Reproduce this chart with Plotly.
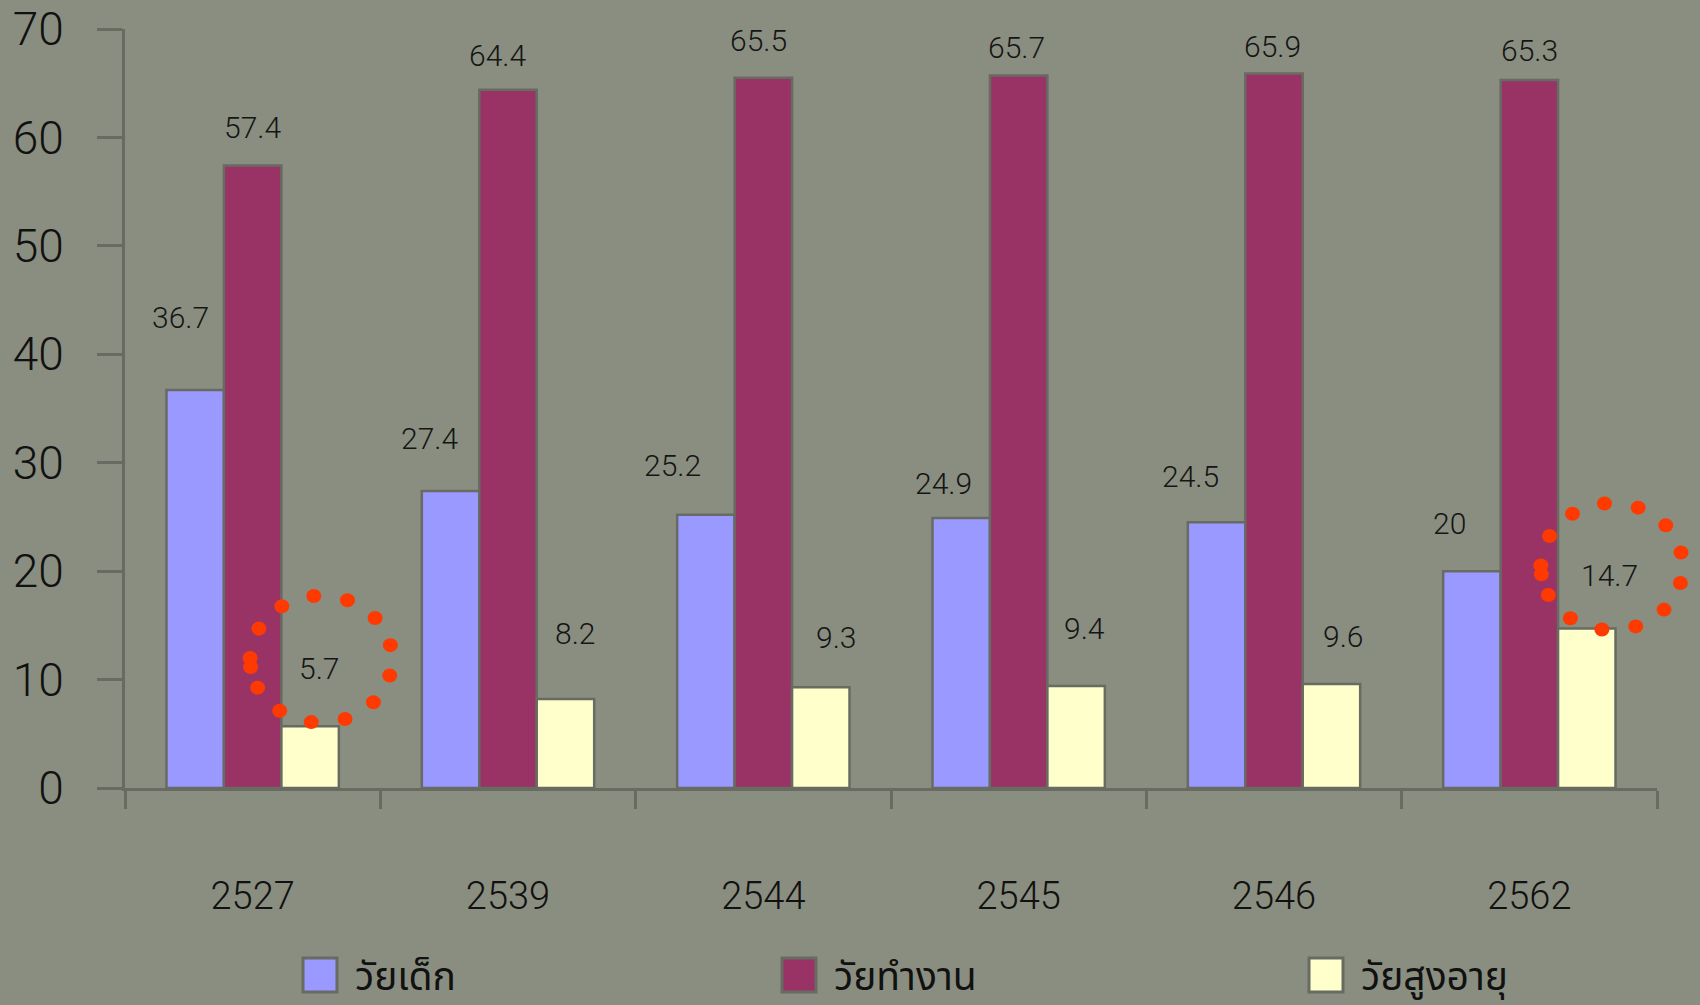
import math
import plotly.graph_objects as go

years = ["2527", "2539", "2544", "2545", "2546", "2562"]
series_names = ["วัยเด็ก", "วัยทำงาน", "วัยสูงอายุ"]
children = [36.7, 27.4, 25.2, 24.9, 24.5, 20]
working = [57.4, 64.4, 65.5, 65.7, 65.9, 65.3]
elderly = [5.7, 8.2, 9.3, 9.4, 9.6, 14.7]
y_ticks = [0, 10, 20, 30, 40, 50, 60, 70]
highlight_years = ["2527", "2562"]

colors = ["#9999FF", "#993366", "#FFFFCC"]
series = [children, working, elderly]

# label offsets (px) relative to top-centre of each bar
label_dx = [[-15, -21, -33, -18, -26, -22],
            [0, -11, -5, -2, -2, 0],
            [9, 10, 15, 8, 12, 23]]
label_dy = [[73, 52, 49, 35, 46, 48],
            [38, 34, 37, 28, 27, 29],
            [58, 66, 50, 58, 47, 53]]

W, H = 1700, 1005
ML, MR, MT, MB = 125, 43, 29, 217
BARGAP = 0.325
plot_w = W - ML - MR
plot_h = H - MT - MB
cat_w = plot_w / len(years)
bar_w = cat_w * (1 - BARGAP) / 3

BG = "#8a8e80"
AX = "#676b61"
FONT = "Roboto, 'Liberation Sans', Arial, sans-serif"
THAI_FONT = "Thonburi, Tahoma, 'Noto Sans Thai', 'Noto Sans', 'DejaVu Sans', sans-serif"

fig = go.Figure()
for name, vals, col in zip(series_names, series, colors):
    fig.add_trace(go.Bar(
        x=years, y=vals, name=name,
        marker=dict(color=col, line=dict(color="#686b62", width=2.5)),
        showlegend=False, hoverinfo="x+y+name",
    ))

annotations = []
shapes = []
for s, vals in enumerate(series):
    base_dx = (s - 1) * bar_w
    for i, v in enumerate(vals):
        annotations.append(dict(
            x=i, y=v, xref="x", yref="y", text=f"{v:g}",
            showarrow=False, xshift=base_dx + label_dx[s][i], yshift=label_dy[s][i],
            xanchor="center", yanchor="middle",
            font=dict(family=FONT, size=30, color="#151515", weight=300),
        ))

# red dotted circles around the elderly labels of highlighted years
# (x anchored on the category centre in the x-domain so the dots are not clipped)
dot_angles = [-123.6 + k * 27.7 for k in range(13)] + [173]
for yr in highlight_years:
    i = years.index(yr)
    cx = bar_w + label_dx[2][i] + 2
    cy = label_dy[2][i] + 9
    for a in dot_angles:
        r = math.radians(a)
        dx = cx + 71 * math.cos(r)
        dy = cy - 63.5 * math.sin(r)
        shapes.append(dict(
            type="circle", xref="x domain", yref="y",
            xsizemode="pixel", ysizemode="pixel",
            xanchor=(i + 0.5) / len(years), yanchor=elderly[i],
            x0=dx - 7.5, x1=dx + 7.5, y0=dy - 7, y1=dy + 7,
            fillcolor="#FF3A00", line=dict(width=0), layer="above",
        ))

# custom legend
def px2x(px):
    return (px - ML) / plot_w

def py2y(py):
    return (H - MB - py) / plot_h

leg_sq_x = [303, 782, 1309]
for name, col, lx in zip(series_names, colors, leg_sq_x):
    shapes.append(dict(
        type="rect", xref="paper", yref="paper",
        x0=px2x(lx), x1=px2x(lx + 34), y0=py2y(992), y1=py2y(958),
        fillcolor=col, line=dict(color="#686b62", width=3),
    ))
    annotations.append(dict(
        x=px2x(lx + 50), y=py2y(978), xref="paper", yref="paper",
        text=name, showarrow=False, xanchor="left", yanchor="middle",
        font=dict(family=THAI_FONT, size=39, color="#111111"),
    ))

fig.update_layout(
    width=W, height=H,
    margin=dict(l=ML, r=MR, t=MT, b=MB, autoexpand=False),
    paper_bgcolor=BG, plot_bgcolor=BG,
    barmode="group", bargap=BARGAP, bargroupgap=0,
    annotations=annotations, shapes=shapes,
    showlegend=False,
    xaxis=dict(
        type="category", range=[-0.5, len(years) - 0.5], autorange=False,
        showgrid=False, zeroline=False,
        showline=True, linecolor=AX, linewidth=3,
        ticks="outside", tickson="boundaries", ticklen=18, tickwidth=3, tickcolor=AX,
        tickangle=0,
        tickfont=dict(family=FONT, size=38, color="#111111", weight=300),
        ticklabelstandoff=72,
    ),
    yaxis=dict(
        range=[0, 70], autorange=False, tickvals=y_ticks, showgrid=False, zeroline=False,
        showline=True, linecolor=AX, linewidth=3,
        ticks="outside", ticklen=25, tickwidth=3, tickcolor=AX,
        tickfont=dict(family=FONT, size=46, color="#111111", weight=300),
        ticklabelstandoff=24,
    ),
)

fig.write_html("out.html")
